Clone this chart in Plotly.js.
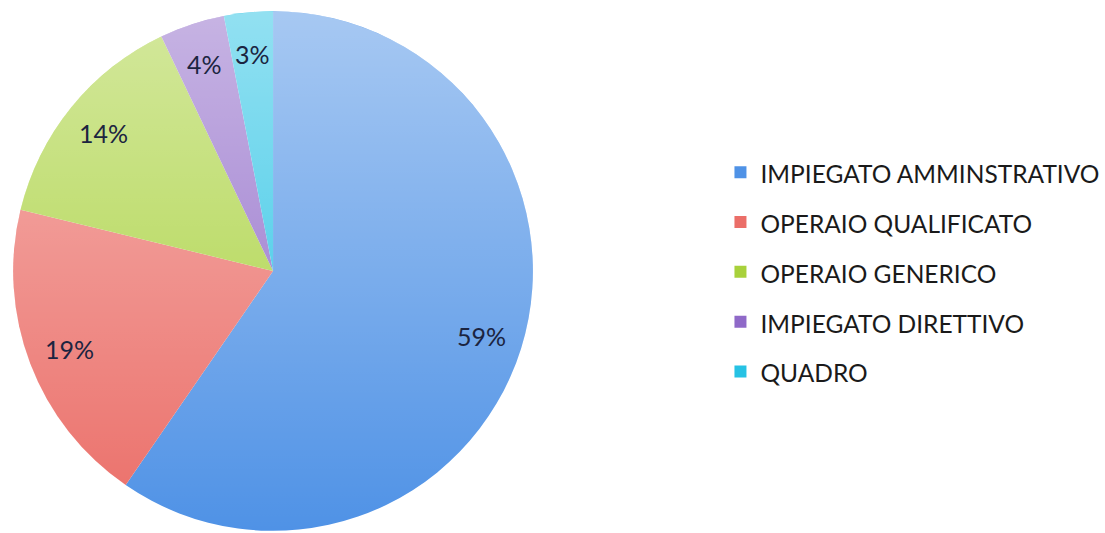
<!DOCTYPE html>
<html>
<head>
<meta charset="utf-8">
<script src="https://cdn.plot.ly/plotly-3.0.1.min.js"></script>
<style>
  html, body { margin: 0; padding: 0; background: #ffffff; }
  #chart { width: 1105px; height: 533px; }
</style>
</head>
<body>
<div id="chart"></div>
<script>
var categories = ['IMPIEGATO AMMINSTRATIVO', 'OPERAIO QUALIFICATO', 'OPERAIO GENERICO', 'IMPIEGATO DIRETTIVO', 'QUADRO'];
var shares = [59, 19, 14, 4, 3];
var shareLabels = ['59%', '19%', '14%', '4%', '3%'];
var sliceColors = ['#4f92e6', '#eb6e68', '#a8d13b', '#8f69c8', '#26c2e4'];

var FONT = 'Lato, "Open Sans", sans-serif';
var W = 1105, H = 533;
var pieDomain = { x: [0.0118, 0.4824], y: [0.004, 0.979] };

var legendLabels = categories.map(function (c) {
  return '<span style="font-size:24.5px;baseline-shift:3px">' + c + '</span>';
});

var trace = {
  type: 'pie',
  labels: legendLabels,
  values: shares,
  textinfo: 'none',
  sort: false,
  direction: 'clockwise',
  rotation: 0,
  marker: { colors: sliceColors, line: { width: 0 } },
  domain: pieDomain,
  hoverinfo: 'none'
};

// geometry of the pie derived from its domain
var cx = (pieDomain.x[0] + pieDomain.x[1]) / 2 * W;
var cy = (1 - (pieDomain.y[0] + pieDomain.y[1]) / 2) * H;
var R = Math.min((pieDomain.x[1] - pieDomain.x[0]) * W, (pieDomain.y[1] - pieDomain.y[0]) * H) / 2;

// percentage labels placed along each slice's mid-angle (derived from the data)
var total = shares.reduce(function (a, b) { return a + b; }, 0);
var cum = 0;
var annotations = shares.map(function (v, i) {
  var mid = (cum + v / 2) / total * 2 * Math.PI;
  cum += v;
  var r = 0.84 * R;
  var px = cx + r * Math.sin(mid);
  var py = cy - r * Math.cos(mid);
  return {
    xref: 'paper', yref: 'paper',
    x: px / W, y: 1 - py / H,
    xanchor: 'center', yanchor: 'middle',
    text: shareLabels[i],
    showarrow: false,
    font: { family: FONT, size: 25, color: '#1b2440' }
  };
});

// soft vertical shading over the pie (lighter at the top)
var shadeSvg = '<svg xmlns="http://www.w3.org/2000/svg" width="200" height="200" viewBox="0 0 200 200">' +
  '<defs><linearGradient id="g" x1="0" y1="0" x2="0" y2="1">' +
  '<stop offset="0" stop-color="#ffffff" stop-opacity="0.5"/>' +
  '<stop offset="1" stop-color="#ffffff" stop-opacity="0"/>' +
  '</linearGradient></defs>' +
  '<circle cx="100" cy="100" r="100" fill="url(#g)"/></svg>';
var shadeImg = {
  source: 'data:image/svg+xml;charset=utf-8,' + encodeURIComponent(shadeSvg),
  xref: 'paper', yref: 'paper',
  x: (cx - R) / W, y: 1 - (cy - R) / H,
  sizex: 2 * R / W, sizey: 2 * R / H,
  xanchor: 'left', yanchor: 'top',
  sizing: 'stretch',
  layer: 'above'
};

var layout = {
  width: W,
  height: H,
  margin: { l: 0, r: 0, t: 0, b: 0 },
  paper_bgcolor: '#ffffff',
  showlegend: true,
  annotations: annotations,
  images: [shadeImg],
  legend: {
    x: 0.652, xanchor: 'left',
    y: 0.49, yanchor: 'middle',
    font: { family: FONT, size: 36, color: '#1a1a1a' },
    bgcolor: 'rgba(0,0,0,0)'
  }
};

Plotly.newPlot('chart', [trace], layout, { staticPlot: true, displayModeBar: false });
</script>
</body>
</html>
